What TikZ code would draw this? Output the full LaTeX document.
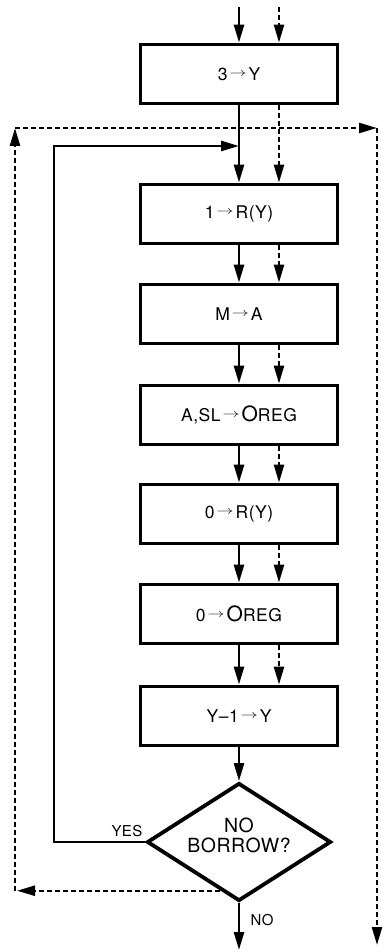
\documentclass[tikz,border=0pt]{standalone}
\usepackage{fontspec}
\setmainfont{TeX Gyre Heros}[LetterSpace=3]
\usetikzlibrary{arrows.meta, positioning, calc, shapes.geometric}

% small raised arrow used inside the boxes
\newcommand{\gives}{\hspace{2pt}\raisebox{4pt}{\fontsize{10}{10}\selectfont\scalebox{1.7}[1.2]{$\rightarrow$}}\hspace{2pt}}
\newcommand{\bigO}{{\fontsize{21}{21}\selectfont O}}

\tikzset{
  procbox/.style={draw, line width=3.8pt, minimum width=197pt, minimum height=59pt,
    inner sep=0pt, font=\fontsize{17.5}{20}\selectfont},
  testbox/.style={diamond, draw, line width=3.8pt, minimum width=184pt, minimum height=118pt,
    aspect=1.56, inner sep=0pt, align=center, text depth=14pt,
    font=\fontsize{19.5}{20}\selectfont},
  flow/.style={line width=2.6pt, -{Triangle[length=18pt, width=10pt]}},
  dflow/.style={flow, line width=2.4pt, dash pattern=on 5pt off 3pt},
  tag/.style={font=\fontsize{15}{15}\selectfont, inner sep=0pt}
}

\begin{document}
\begin{tikzpicture}[x=1pt, y=-1pt]

% Canvas: 390 x 952, y measured downward
\fill[white] (0,0) rectangle (390,952);
\useasboundingbox (0,0) rectangle (390,952);

% Process boxes (centre line x = 239)
\node[procbox] (init)  at (239,74)  {3\gives Y};
\node[procbox] (setr)  at (239,214) {1\gives R(Y)};
\node[procbox] (load)  at (239,314) {M\gives A};
\node[procbox] (shift) at (239,415) {A,SL\gives\bigO REG};
\node[procbox] (clrr)  at (239,514) {0\gives R(Y)};
\node[procbox] (clro)  at (239,614) {0\gives\bigO REG};
\node[procbox] (decy)  at (239,716) {Y--1\gives Y};

% Decision
\node[testbox] (test) at (239,842) {NO\\BORROW?};

% Entry arrows
\coordinate (entry)  at (239,7);
\coordinate (dentry) at (279,7);
\draw[flow]  (entry)  -- (init.north);
\draw[dflow] (dentry) -- ([xshift=40pt]init.north);

% Solid chain
\draw[flow] (init)  -- (setr);
\draw[flow] (setr)  -- (load);
\draw[flow] (load)  -- (shift);
\draw[flow] (shift) -- (clrr);
\draw[flow] (clrr)  -- (clro);
\draw[flow] (clro)  -- (decy);
\draw[flow] (decy)  -- (test);

% Dashed chain, 40 to the right
\draw[dflow] ([xshift=40pt]init.south)  -- ([xshift=40pt]setr.north);
\draw[dflow] ([xshift=40pt]setr.south)  -- ([xshift=40pt]load.north);
\draw[dflow] ([xshift=40pt]load.south)  -- ([xshift=40pt]shift.north);
\draw[dflow] ([xshift=40pt]shift.south) -- ([xshift=40pt]clrr.north);
\draw[dflow] ([xshift=40pt]clrr.south)  -- ([xshift=40pt]clro.north);
\draw[dflow] ([xshift=40pt]clro.south)  -- ([xshift=40pt]decy.north);

% YES loop back above 1 -> R(Y)
\coordinate (merge) at (239,146);
\draw[flow] (test.west) -- ++(-91,0) |- (merge);
\node[tag] (yes) at (127,831) {YES};

% Dashed outer loop
\coordinate (ul) at (15,128);
\coordinate (ur) at (377,128);
\coordinate (dr) at (377,945);
\coordinate (dexit) at ($(test.west)!0.8!(test.south)$);
\coordinate (ll) at (dexit -| ul);
\draw[dflow] (dexit) -- ([xshift=2pt]ll);
\draw[dflow] (ll) -- (ul);
\draw[dflow] (ul) -- (ur);
\draw[dflow] (ur) -- (dr);

% Exit
\coordinate (exit) at (239,950);
\draw[flow] (test.south) -- (exit);
\node[tag] (no) at (262,920) {NO};

\end{tikzpicture}
\end{document}
